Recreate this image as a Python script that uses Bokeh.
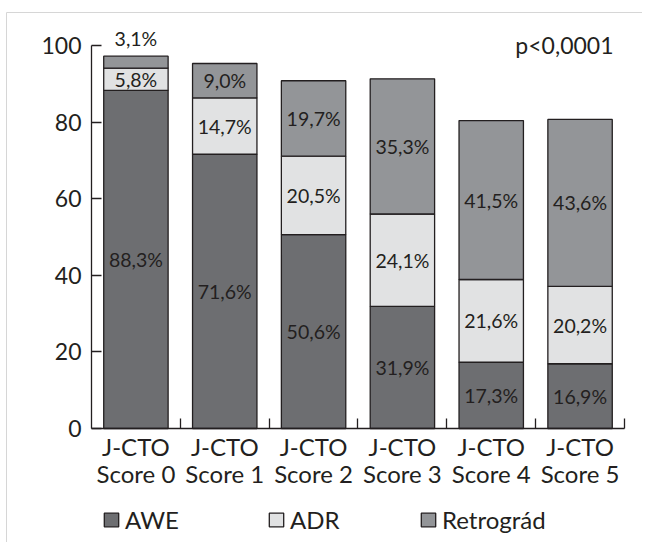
from bokeh.plotting import figure
from bokeh.models import (ColumnDataSource, Range1d, FixedTicker, Legend,
                          LegendItem, Label)
from bokeh.core.properties import value
from bokeh.embed import file_html
from bokeh.resources import INLINE

# ---- data ----
categories = ["J-CTO\nScore 0", "J-CTO\nScore 1", "J-CTO\nScore 2",
              "J-CTO\nScore 3", "J-CTO\nScore 4", "J-CTO\nScore 5"]
series = ["AWE", "ADR", "Retrográd"]
awe = [88.3, 71.6, 50.6, 31.9, 17.3, 16.9]
adr = [5.8, 14.7, 20.5, 24.1, 21.6, 20.2]
retro = [3.1, 9.0, 19.7, 35.3, 41.5, 43.6]
y_ticks = [0, 20, 40, 60, 80, 100]
p_value_text = "p<0,0001"

# ---- styles / layout ----
FONT = "Lato"
INK = "#231f20"
colors = ["#6d6e71", "#e1e2e3", "#939598"]
W, H = 642, 542
X0_PX, PITCH = 91.0, 88.83   # canvas px of first category edge, px per category
Y0_PX, PPU = 428.0, 3.83     # canvas px of y=0, px per unit


def sx(px):
    return (px - X0_PX) / PITCH


def sy(py):
    return (Y0_PX - py) / PPU


n = len(categories)
centers = [i + 0.5 for i in range(n)]
edges = [i + 1 for i in range(n)]

src = ColumnDataSource(dict(x=centers, cat=categories, AWE=awe, ADR=adr,
                            **{"Retrográd": retro}))

p = figure(x_range=Range1d(sx(0), sx(W)), y_range=Range1d(sy(H), sy(0)),
           width=W, height=H, min_border=0,
           output_backend="svg", toolbar_location=None)

# light frame (top and left edges)
p.segment(x0=[sx(6), sx(6)], y0=[sy(12), sy(12)],
          x1=[sx(W), sx(6)], y1=[sy(12), sy(H)],
          line_color="#d6d6d6", line_width=1)

renderers = p.vbar_stack(series, x="x", width=0.725, color=colors,
                         line_color=INK, line_width=1.3, source=src)

# segment labels
lx, ly, lt, lo = [], [], [], []
bottoms = [0.0] * n
for vals in (awe, adr, retro):
    for j, v in enumerate(vals):
        lx.append(centers[j])
        lt.append(f"{v:.1f}".replace(".", ",") + "%")
        if v < 4:
            ly.append(bottoms[j] + v)
            lo.append(-18)
        else:
            ly.append(bottoms[j] + v / 2)
            lo.append(0)
        bottoms[j] += v
lsrc = ColumnDataSource(dict(x=lx, y=ly, t=lt, o=lo))
p.text(x="x", y="y", text="t", y_offset="o", source=lsrc,
       text_align="center", text_baseline="middle",
       text_font=value(FONT), text_font_size="19.5px", text_color=INK)

# axes
p.xgrid.visible = False
p.ygrid.visible = False
p.outline_line_color = None

xa = p.xaxis[0]
xa.fixed_location = 0
xa.bounds = (0, n)
xa.ticker = FixedTicker(ticks=centers, minor_ticks=edges)
xa.major_label_overrides = {c: lab for c, lab in zip(centers, categories)}
xa.axis_line_color = INK
xa.axis_line_width = 1.3
xa.major_tick_line_color = None
xa.minor_tick_line_color = INK
xa.minor_tick_line_width = 1.3
xa.minor_tick_in = 10
xa.minor_tick_out = 0
xa.major_label_text_font = FONT
xa.major_label_text_font_size = "24px"
xa.major_label_text_color = INK
xa.major_label_standoff = -3
xa.major_label_text_line_height = 0.95

ya = p.yaxis[0]
ya.fixed_location = 0
ya.ticker = FixedTicker(ticks=y_ticks)
ya.bounds = (0, 100)
ya.axis_line_color = INK
ya.axis_line_width = 1.3
ya.major_tick_line_color = INK
ya.major_tick_line_width = 1.3
ya.major_tick_in = 10
ya.major_tick_out = 0
ya.minor_tick_line_color = None
ya.major_label_text_font = FONT
ya.major_label_text_font_size = "23px"
ya.major_label_text_color = INK
ya.major_label_standoff = 10

p.add_layout(Label(x=sx(613), y=sy(44), text=p_value_text, text_align="right",
                   text_baseline="middle", text_font=FONT,
                   text_font_size="23px", text_color=INK))

legend_x = [102, 267, 419]
for name, r, lxp in zip(series, renderers, legend_x):
    leg = Legend(items=[LegendItem(label=name, renderers=[r])],
                 location=(lxp, 8), orientation="horizontal",
                 padding=0, margin=0, spacing=0,
                 glyph_width=18, glyph_height=17, label_standoff=5,
                 label_height=17,
                 label_text_font=FONT, label_text_font_size="24px",
                 label_text_color=INK, label_text_baseline="middle",
                 border_line_color=None, background_fill_alpha=0)
    p.add_layout(leg)

open("out.html", "w").write(file_html(p, INLINE))
